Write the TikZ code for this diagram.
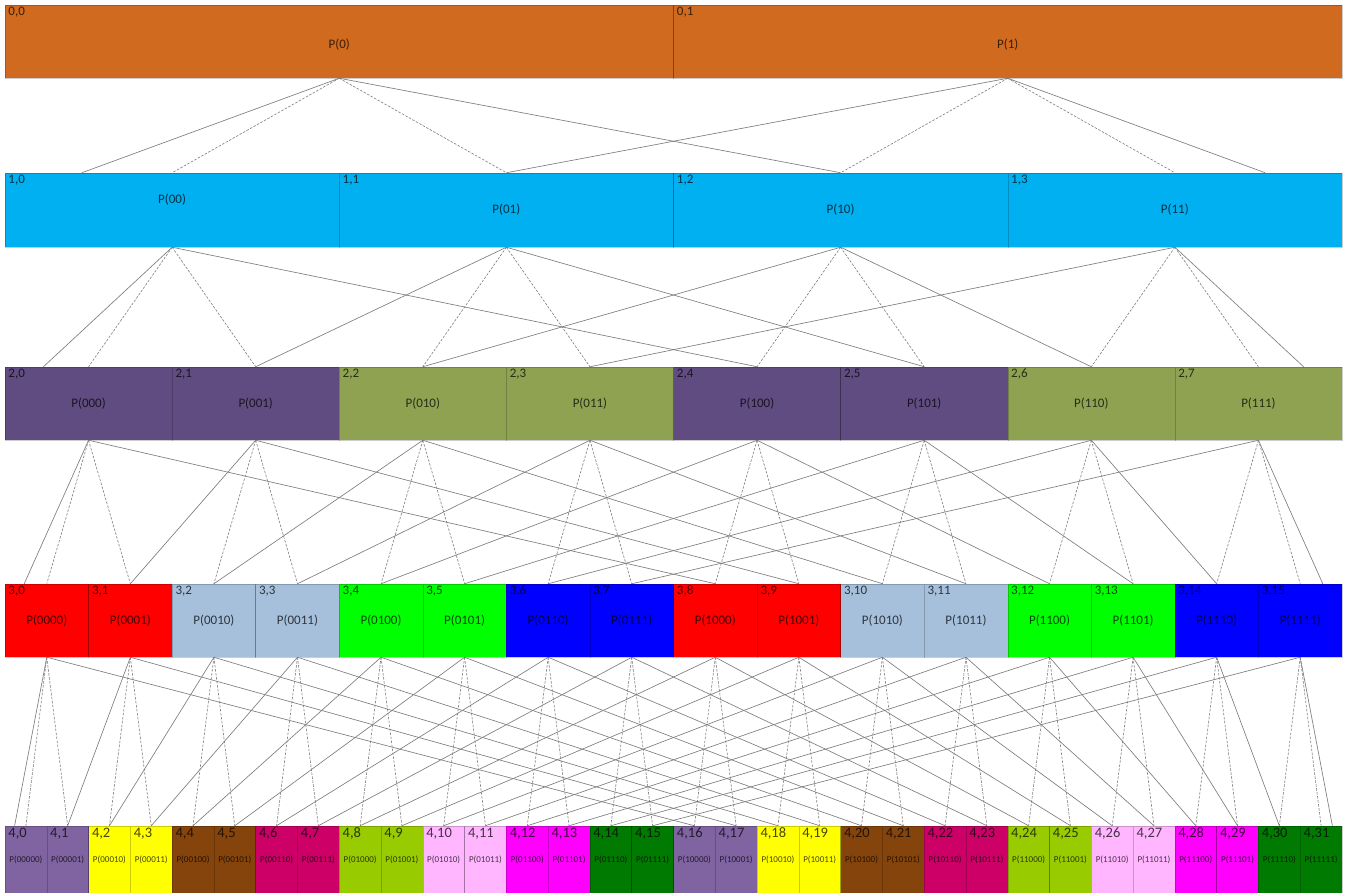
\documentclass[tikz,border=0pt]{standalone}
\usepackage{fontspec}
\setmainfont{Carlito}
\definecolor{col0x0}{RGB}{208,106,30}
\definecolor{col1x0}{RGB}{0,176,240}
\definecolor{col2x0}{RGB}{96,76,128}
\definecolor{col2x1}{RGB}{142,162,82}
\definecolor{col3x0}{RGB}{255,0,0}
\definecolor{col3x1}{RGB}{166,192,220}
\definecolor{col3x2}{RGB}{0,255,0}
\definecolor{col3x3}{RGB}{0,0,255}
\definecolor{col4x0}{RGB}{128,100,162}
\definecolor{col4x1}{RGB}{255,255,0}
\definecolor{col4x2}{RGB}{132,68,12}
\definecolor{col4x3}{RGB}{204,0,102}
\definecolor{col4x4}{RGB}{153,204,0}
\definecolor{col4x5}{RGB}{255,182,255}
\definecolor{col4x6}{RGB}{255,0,255}
\definecolor{col4x7}{RGB}{0,122,0}
\definecolor{linkgray}{RGB}{125,125,125}
\newcommand\mybin[2]{\foreach \jj in {#2,...,0}{\pgfmathtruncatemacro\dd{mod(floor(#1/2^\jj),2)}\dd}}
\tikzset{
  box/.style={rectangle, inner sep=0pt, draw=black, draw opacity=0.2, line width=0.5pt},
  ptext/.style={inner sep=0pt, text=black, text opacity=0.72},
  lab/.style={anchor=north west, inner xsep=3.5pt, inner ysep=2pt, text=black, text opacity=0.72},
  solidlink/.style={draw=linkgray, line width=0.65pt},
  dashlink/.style={draw=linkgray, line width=0.6pt, dash pattern=on 2.5pt off 1.5pt}
}
\begin{document}
\begin{tikzpicture}[x=1pt,y=-1pt]
\useasboundingbox (0,0) rectangle (1345,893);
\fill[white] (0,0) rectangle (1345,893);
% boxes
\foreach \k/\yt/\yb/\nc/\fs/\ls in {0/5/78/1/13/13,1/173/247/1/13/13,2/367/440/2/13/13,3/584/657/4/13/13,4/826/893/8/9/14.5}{
  \pgfmathtruncatemacro\n{2^(\k+1)}
  \pgfmathtruncatemacro\nm{\n-1}
  \pgfmathsetmacro\w{1337/\n}
  \pgfmathsetmacro\h{\yb-\yt}
  \pgfmathsetmacro\yc{(\yt+\yb)/2}
  \foreach \i in {0,...,\nm}{
    \pgfmathsetmacro\xc{5+(\i+0.5)*\w}
    \pgfmathtruncatemacro\ci{mod(floor(\i/2),\nc)}
    \pgfmathsetmacro\ys{(\k==0)*(-3)+(\k==1)*(\i==0)*10}
    \node[box, fill=col\k x\ci, minimum width=\w pt, minimum height=\h pt] (n\k-\i) at (\xc,\yc) {};
    \node[ptext, font=\fontsize{\fs}{\fs}\selectfont] (t\k-\i) at ([yshift=\ys pt]n\k-\i.center) {P(\mybin{\i}{\k})};
    \node[lab, font=\fontsize{\ls}{\ls}\selectfont] (l\k-\i) at (n\k-\i.north west) {\k,\i};
  }
}
% connectors
\foreach \k in {0,...,3}{
  \pgfmathtruncatemacro\n{2^(\k+1)}
  \pgfmathtruncatemacro\nm{\n-1}
  \pgfmathtruncatemacro\kk{\k+1}
  \pgfmathsetmacro\off{0.27*1337/(2*\n)}
  \foreach \i in {0,...,\nm}{
    \pgfmathtruncatemacro\ca{2*\i}
    \pgfmathtruncatemacro\cb{2*\i+1}
    \pgfmathtruncatemacro\cc{\i+\n}
    \pgfmathsetmacro\sa{(\i==0)*(-\off)}
    \pgfmathsetmacro\sb{(\i==\nm)*\off}
    \draw[dashlink] (n\k-\i.south) -- (n\kk-\ca.north);
    \draw[dashlink] (n\k-\i.south) -- (n\kk-\cb.north);
    \draw[solidlink] (n\k-\i.south) -- ([xshift=\sa pt]n\kk-\i.north);
    \draw[solidlink] (n\k-\i.south) -- ([xshift=\sb pt]n\kk-\cc.north);
  }
}
\end{tikzpicture}
\end{document}
